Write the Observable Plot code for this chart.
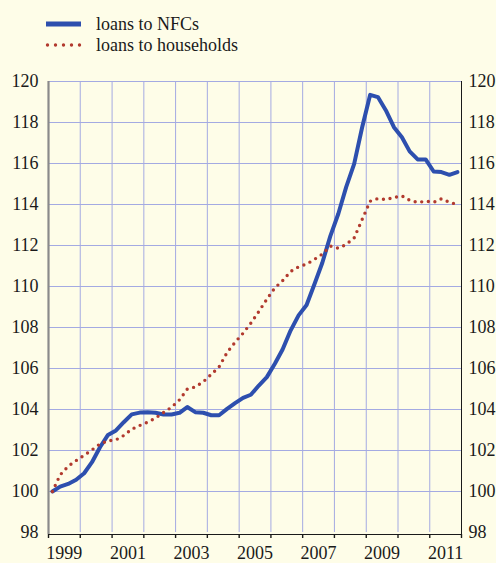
<!DOCTYPE html>
<html>
<head>
<meta charset="utf-8">
<script src="https://cdn.jsdelivr.net/npm/d3@7"></script>
<script src="https://cdn.jsdelivr.net/npm/@observablehq/plot@0.6"></script>
<style>
  html, body { margin: 0; padding: 0; background: #fefde8; }
  #wrap { position: relative; width: 496px; height: 563px; overflow: hidden; background: #fefde8; }
  #legend { position: absolute; left: 0; top: 0; }
  #chart { position: absolute; left: 0; top: 0; }
</style>
</head>
<body>
<div id="wrap">
  <div id="chart"></div>
  <svg id="legend" width="496" height="60" font-family="'Liberation Serif', 'Times New Roman', serif" font-size="18" fill="#1a1a1a">
    <line x1="46" x2="81" y1="24" y2="24" stroke="#2d4fae" stroke-width="5"></line>
    <text x="96" y="30">loans to NFCs</text>
    <line x1="47.5" x2="80" y1="45" y2="45" stroke="#b23a2e" stroke-width="3.4" stroke-dasharray="0 8" stroke-linecap="round"></line>
    <text x="96" y="51">loans to households</text>
  </svg>
</div>
<script>
// Quarterly index values, 1999 Q1 = 100
const startYear = 1999;
const loansNFCs = [
  100.0, 100.24, 100.37, 100.57,
  100.89, 101.43, 102.16, 102.76,
  102.98, 103.38, 103.76, 103.85,
  103.87, 103.84, 103.76, 103.76,
  103.84, 104.12, 103.87, 103.84,
  103.72, 103.72, 104.03, 104.31,
  104.57, 104.72, 105.17, 105.58,
  106.23, 106.93, 107.85, 108.59,
  109.10, 110.10, 111.16, 112.46,
  113.55, 114.85, 115.98, 117.77,
  119.35, 119.24, 118.59, 117.77,
  117.28, 116.59, 116.20, 116.20,
  115.61, 115.58, 115.45, 115.58
];
const loansHouseholds = [
  100.0, 100.81, 101.23, 101.51,
  101.77, 102.03, 102.32, 102.47,
  102.52, 102.73, 103.04, 103.22,
  103.38, 103.58, 103.85, 104.11,
  104.47, 104.99, 105.10, 105.35,
  105.71, 106.08, 106.78, 107.28,
  107.72, 108.21, 108.78, 109.38,
  109.93, 110.28, 110.73, 110.96,
  111.09, 111.32, 111.58, 111.97,
  111.87, 112.05, 112.37, 113.27,
  114.16, 114.29, 114.24, 114.34,
  114.42, 114.21, 114.10, 114.16,
  114.11, 114.28, 114.11, 114.00
];
const yTicks = [98, 100, 102, 104, 106, 108, 110, 112, 114, 116, 118, 120];
const xLabelYears = [1999, 2001, 2003, 2005, 2007, 2009, 2011];
const yearTicks = [1999, 2000, 2001, 2002, 2003, 2004, 2005, 2006, 2007, 2008, 2009, 2010, 2011, 2012];

// mid-quarter dates
const qDate = (i) => new Date(Date.UTC(startYear + Math.floor(i / 4), 3 * (i % 4) + 1, 15));
const nfc = loansNFCs.map((v, i) => ({date: qDate(i), value: v}));
const hh = loansHouseholds.map((v, i) => ({date: qDate(i), value: v}));

const yr = (y) => new Date(Date.UTC(y, 0, 1));
const xStart = yr(1999), xEnd = yr(2012);

const font = "'Liberation Serif', 'Times New Roman', serif";
const grid = "#a4aae2";
const ink = "#1a1a1a";

const chart = Plot.plot({
  width: 496,
  height: 563,
  marginLeft: 48,
  marginRight: 35,
  marginTop: 81,
  marginBottom: 31,
  style: {background: "transparent", fontFamily: font, fontSize: "18px", color: ink},
  x: {type: "utc", domain: [xStart, xEnd], axis: null},
  y: {domain: [98, 120], axis: null},
  marks: [
    // grid
    Plot.ruleX(yearTicks.slice(1, -1).map(yr), {stroke: grid, strokeWidth: 1, strokeOpacity: 1}),
    Plot.ruleY(yTicks.filter(v => v > 98), {stroke: grid, strokeWidth: 1, strokeOpacity: 1}),
    // x baseline and ticks
    Plot.ruleY([98], {stroke: ink, strokeWidth: 1.2, dy: 2}),
    Plot.axisX(yearTicks.map(yr), {tickSize: 4, tickFormat: () => "", stroke: ink, strokeWidth: 1.4, dy: 2}),
    // left & right axes
    Plot.ruleX([xStart], {stroke: "#8a8a8a", strokeWidth: 2.2, insetBottom: -2}),
    Plot.ruleX([xEnd], {stroke: ink, strokeWidth: 1, insetBottom: -2}),
    // y labels
    Plot.text(yTicks, {x: () => xStart, y: d => d, text: d => String(d), textAnchor: "end", dx: -10, fill: ink, fontSize: 18, fontFamily: font}),
    Plot.text(yTicks, {x: () => xEnd, y: d => d, text: d => String(d), textAnchor: "start", dx: 7, fill: ink, fontSize: 18, fontFamily: font}),
    // x labels (centred in the year)
    Plot.text(xLabelYears, {x: d => new Date(Date.UTC(d, 6, 2)), y: () => 98, text: d => String(d), dy: 20.5, fill: ink, fontSize: 18, fontFamily: font}),
    // series
    Plot.line(nfc, {x: "date", y: "value", stroke: "#2d4fae", strokeWidth: 4, strokeLinejoin: "round", strokeLinecap: "round"}),
    Plot.line(hh, {x: "date", y: "value", stroke: "#b23a2e", strokeWidth: 3.4, strokeDasharray: "0 6.7", strokeLinecap: "round"})
  ]
});
document.getElementById("chart").appendChild(chart);
</script>
</body>
</html>
